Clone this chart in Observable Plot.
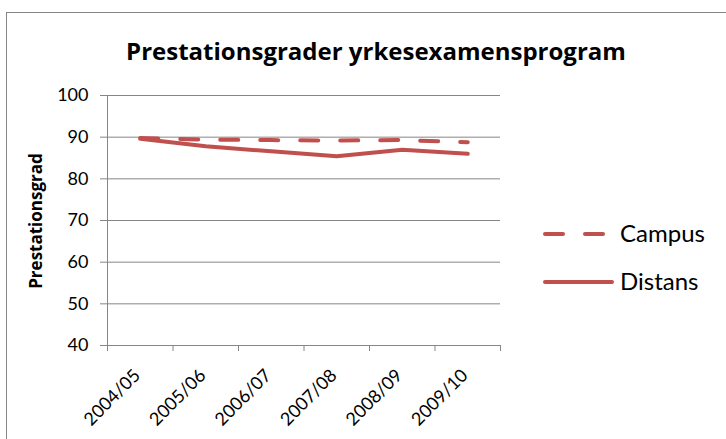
<!DOCTYPE html>
<html><head><meta charset="utf-8">
<script src="https://cdn.jsdelivr.net/npm/d3@7"></script>
<script src="https://cdn.jsdelivr.net/npm/@observablehq/plot@0.6"></script>
<style>
body{margin:0;background:#fff;}
#chart{position:relative;width:726px;height:439px;overflow:hidden;font-family:Lato,"Open Sans",sans-serif;background:#fff;}
#frame{position:absolute;left:6px;top:12px;right:-2px;bottom:-2px;border-top:1.5px solid #868686;border-left:1.5px solid #868686;}
#title{position:absolute;left:0;width:752px;top:34px;text-align:center;font-family:"Open Sans",sans-serif;font-weight:bold;font-size:24px;line-height:normal;color:#000;white-space:nowrap;}
#ylabel{position:absolute;left:35px;top:221px;transform:translate(-50%,-50%) rotate(-90deg);font-family:"Open Sans",sans-serif;font-weight:bold;font-size:17px;white-space:nowrap;color:#000;}
#plot{position:absolute;left:0;top:0;}
#legend{position:absolute;left:0;top:0;}
</style></head><body>
<div id="chart">
  <div id="frame"></div>
  <div id="plot"></div>
  <div id="title"></div>
  <div id="ylabel"></div>
  <svg id="legend" width="726" height="439"></svg>
</div>
<script>
const titleText = "Prestationsgrader yrkesexamensprogram";
const yLabelText = "Prestationsgrad";
const years = ["2004/05", "2005/06", "2006/07", "2007/08", "2008/09", "2009/10"];
const seriesNames = ["Campus", "Distans"];
const campus = [89.8, 89.4, 89.3, 89.2, 89.3, 88.8];
const distans = [89.6, 87.8, 86.6, 85.4, 87.0, 86.0];
const yTicks = [40, 50, 60, 70, 80, 90, 100];

const red = "#c0504d";
const gray = "#868686";
const dash = "18,22";

document.getElementById("title").textContent = titleText;
document.getElementById("ylabel").textContent = yLabelText;

const rows = [];
years.forEach((yr, i) => {
  rows.push({i, year: yr, series: seriesNames[0], v: campus[i]});
  rows.push({i, year: yr, series: seriesNames[1], v: distans[i]});
});
const idx = d3.range(years.length);
const bounds = d3.range(years.length + 1).map(k => k - 0.5);

const plot = Plot.plot({
  width: 726,
  height: 439,
  marginLeft: 107,
  marginRight: 226,
  marginTop: 95,
  marginBottom: 94,
  style: {background: "transparent", color: "#000", fontFamily: "Lato, 'Open Sans', sans-serif", fontSize: "18px", overflow: "visible"},
  x: {type: "linear", domain: [-0.5, years.length - 0.5]},
  y: {domain: [40, 100]},
  marks: [
    Plot.gridY(yTicks, {stroke: gray, strokeOpacity: 1, strokeWidth: 1}),
    Plot.ruleX([-0.5], {stroke: gray, strokeWidth: 1}),
    Plot.ruleY([40], {stroke: gray, strokeWidth: 1}),
    Plot.axisY(yTicks, {tickSize: 7, tickPadding: 12, stroke: gray, label: null, fontSize: 18}),
    Plot.axisX(bounds, {tickSize: 6, tickFormat: () => "", stroke: gray, label: null}),
    Plot.axisX(idx, {tickSize: 0, tickPadding: 27, dx: -3, tickFormat: i => years[i], tickRotate: -45, label: null, fontSize: 18}),
    Plot.line(rows.filter(d => d.series === seriesNames[0]), {x: "i", y: "v", stroke: red, strokeWidth: 4, strokeDasharray: dash, strokeLinecap: "round", strokeLinejoin: "round"}),
    Plot.line(rows.filter(d => d.series === seriesNames[1]), {x: "i", y: "v", stroke: red, strokeWidth: 4, strokeLinecap: "round", strokeLinejoin: "round"})
  ]
});
document.getElementById("plot").appendChild(plot);

// legend
const lg = d3.select("#legend");
const items = [
  {name: seriesNames[0], y: 234, x2: 605, dash: dash},
  {name: seriesNames[1], y: 282, x2: 614, dash: null}
];
items.forEach(it => {
  lg.append("line").attr("x1", 545).attr("x2", it.x2 - 2).attr("y1", it.y).attr("y2", it.y)
    .attr("stroke", red).attr("stroke-width", 4).attr("stroke-linecap", "round")
    .attr("stroke-dasharray", it.dash);
  lg.append("text").attr("x", 620).attr("y", it.y).attr("dy", "0.35em")
    .attr("font-size", 24).attr("font-family", "Lato, 'Open Sans', sans-serif").attr("fill", "#000").text(it.name);
});
</script>
</body></html>
